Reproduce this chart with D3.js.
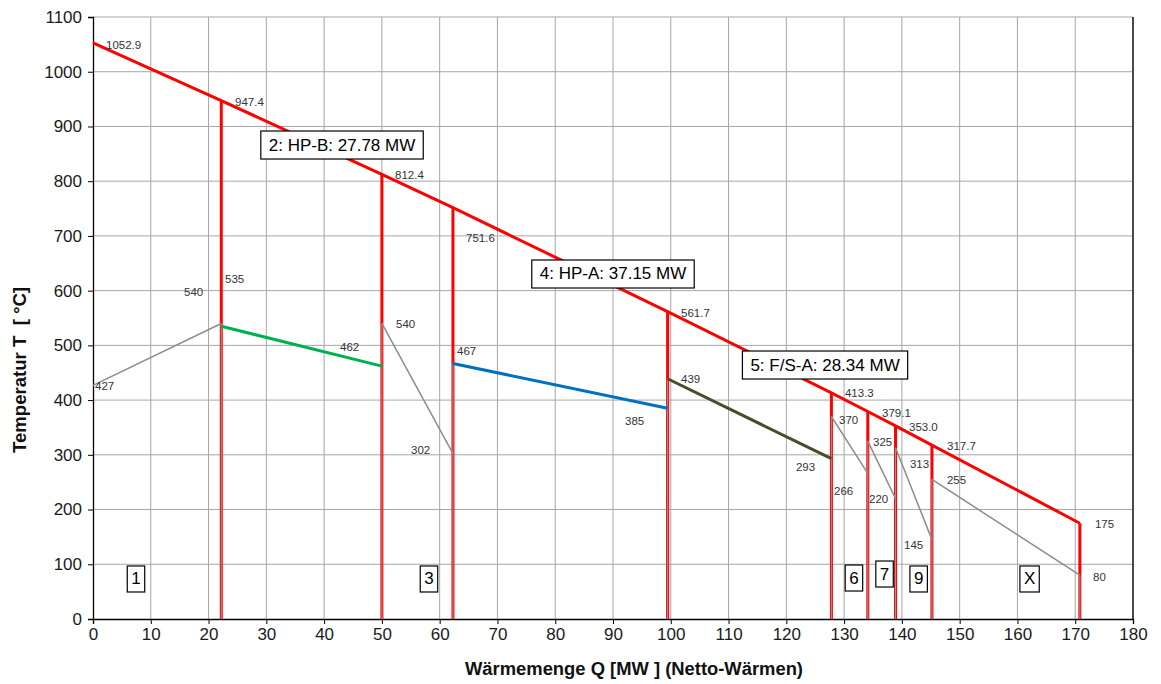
<!DOCTYPE html>
<html><head><meta charset="utf-8">
<script src="https://cdn.jsdelivr.net/npm/d3@7"></script>
<style>
body{margin:0;background:#fff;}
text{font-family:"Liberation Sans",Arial,sans-serif;}
</style></head>
<body><svg id="chart" width="1161" height="684"></svg>
<script>
// ---------- DATA ----------
const xTicks = d3.range(0, 181, 10);
const yTicks = d3.range(0, 1101, 100);

// hot composite (red)
const hotQ = [0, 22.2, 50.0, 62.3, 99.45, 127.8, 134.1, 138.9, 145.2, 170.8];
const hotT = [1052.9, 947.4, 812.4, 751.6, 561.7, 413.3, 379.1, 353.0, 317.7, 175];

// cold stream segments
const segQ0 = [0, 22.2, 50.0, 62.3, 99.45, 127.8, 134.1, 138.9, 145.2];
const segQ1 = [22.2, 50.0, 62.3, 99.45, 127.8, 134.1, 138.9, 145.2, 170.8];
const segT0 = [427, 535, 540, 467, 439, 370, 325, 313, 255];
const segT1 = [540, 462, 302, 385, 293, 266, 220, 145, 80];
const segKind = ["grey", "green", "grey", "blue", "olive", "grey", "grey", "grey", "grey"];

// cold verticals at each boundary
const coldVertT = [540, 540, 467, 439, 370, 325, 313, 255, 80];

// value labels: text, q, t (data coords of label left/baseline)
const valText = ["1052.9","947.4","812.4","751.6","561.7","439","385","413.3","379.1","353.0","317.7","175",
  "370","325","313","255","293","266","220","145","80","540","535","462","540","467","302","427"];
const valQ = [2.25,24.58,52.27,64.56,101.77,101.77,92.08,130.15,136.56,141.23,147.81,173.42,
  129.12,135.0,141.4,147.8,121.67,128.25,134.31,140.37,173.08,15.75,22.85,42.75,52.44,63.0,55.04,0.35];
const valT = [1041.5,937.4,804.0,688.9,551.8,431.2,354.5,405.6,369.1,343.5,308.8,166.3,
  356.3,316.1,275.9,246.7,270.4,226.6,212.0,127.9,69.4,590.2,614.0,489.7,531.7,482.4,301.5,418.4];

// boxed labels (centre in data coords)
const boxText = ["2: HP-B: 27.78 MW","4: HP-A: 37.15 MW","5: F/S-A: 28.34 MW","1","3","6","7","9","X"];
const boxQ = [43.1, 90.0, 126.7, 7.44, 58.15, 131.7, 137.0, 142.9, 162.1];
const boxT = [866.1, 630.4, 464.1, 73.1, 73.1, 74.9, 82.2, 73.1, 73.1];

// ---------- CHART ----------
const W = 1161, H = 684;
const m = {l: 93, r: 28, t: 17, b: 65};
const svg = d3.select("#chart");
const x = d3.scaleLinear().domain([0, 180]).range([m.l, W - m.r]);
const y = d3.scaleLinear().domain([0, 1100]).range([H - m.b, m.t]);
const colors = {grey: "#8c8c8c", green: "#00b050", blue: "#0070c0", olive: "#4b4a2c"};

// grid
svg.append("g").selectAll("line").data(xTicks.slice(1)).join("line")
  .attr("x1", d => x(d)).attr("x2", d => x(d)).attr("y1", y(0)).attr("y2", y(1100))
  .attr("stroke", "#a6a6a6").attr("stroke-width", 1);
svg.append("g").selectAll("line").data(yTicks.slice(1)).join("line")
  .attr("x1", x(0)).attr("x2", x(180)).attr("y1", d => y(d)).attr("y2", d => y(d))
  .attr("stroke", "#a6a6a6").attr("stroke-width", 1);

// axes
const xAxis = svg.append("g").attr("transform", `translate(0,${y(0)})`)
  .call(d3.axisBottom(x).tickValues(xTicks).tickFormat(d3.format("d")).tickSize(5).tickPadding(4));
const yAxis = svg.append("g").attr("transform", `translate(${x(0)},0)`)
  .call(d3.axisLeft(y).tickValues(yTicks).tickFormat(d3.format("d")).tickSize(5).tickPadding(6));
[xAxis, yAxis].forEach(a => {
  a.select(".domain").attr("stroke", "#000").attr("stroke-width", 1.3);
  a.selectAll(".tick line").attr("stroke", "#000");
  a.selectAll("text").attr("font-size", 17).attr("fill", "#1a1a1a")
    .attr("font-family", "Liberation Sans, Arial, sans-serif");
});
// right border
svg.append("line").attr("x1", x(180)).attr("x2", x(180)).attr("y1", y(0)).attr("y2", y(1100))
  .attr("stroke", "#000").attr("stroke-width", 1.3);

// red verticals
svg.append("g").selectAll("line").data(hotQ.slice(1).map((q, i) => [q, hotT[i + 1]])).join("line")
  .attr("x1", d => x(d[0])).attr("x2", d => x(d[0])).attr("y1", y(0)).attr("y2", d => y(d[1]))
  .attr("stroke", "#ff0000").attr("stroke-width", 3);
// grey verticals inside
svg.append("g").selectAll("line").data(hotQ.slice(1).map((q, i) => [q, coldVertT[i]])).join("line")
  .attr("x1", d => x(d[0])).attr("x2", d => x(d[0])).attr("y1", y(0)).attr("y2", d => y(d[1]))
  .attr("stroke", "#9a9a9a").attr("stroke-width", 1);

// red hot line
svg.append("path").datum(hotQ.map((q, i) => [q, hotT[i]]))
  .attr("d", d3.line().x(d => x(d[0])).y(d => y(d[1])))
  .attr("fill", "none").attr("stroke", "#ff0000").attr("stroke-width", 3);

// cold segments
svg.append("g").selectAll("line").data(segQ0.map((q, i) => i)).join("line")
  .attr("x1", i => x(segQ0[i])).attr("x2", i => x(segQ1[i]))
  .attr("y1", i => y(segT0[i])).attr("y2", i => y(segT1[i]))
  .attr("stroke", i => colors[segKind[i]])
  .attr("stroke-width", i => segKind[i] === "grey" ? 1.5 : 3);

// value labels
svg.append("g").selectAll("text").data(valText.map((t, i) => i)).join("text")
  .attr("x", i => x(valQ[i])).attr("y", i => y(valT[i]))
  .attr("font-size", 11.5).attr("fill", "#333").text(i => valText[i]);

// boxed labels
const bg = svg.append("g");
boxText.forEach((t, i) => {
  const big = t.length > 2;
  const g = bg.append("g");
  const tx = g.append("text").attr("x", x(boxQ[i])).attr("y", y(boxT[i]))
    .attr("text-anchor", "middle").attr("dominant-baseline", "central")
    .attr("font-size", 17).attr("fill", "#000").text(t);
  const bb = tx.node().getBBox();
  const px = big ? 8 : 4, h = big ? 28 : 26;
  g.insert("rect", "text").attr("x", bb.x - px).attr("y", y(boxT[i]) - h / 2)
    .attr("width", bb.width + 2 * px).attr("height", h)
    .attr("fill", "#fff").attr("stroke", "#000").attr("stroke-width", 1.2);
});

// axis titles
svg.append("text").attr("x", 634).attr("y", 675).attr("text-anchor", "middle")
  .attr("font-size", 18).attr("font-weight", "bold").attr("fill", "#111")
  .attr("textLength", 338).attr("lengthAdjust", "spacingAndGlyphs")
  .text("Wärmemenge Q [MW ] (Netto-Wärmen)");
svg.append("text").attr("transform", `translate(26,370) rotate(-90)`)
  .attr("text-anchor", "middle").attr("font-size", 18).attr("font-weight", "bold").attr("fill", "#111")
  .attr("textLength", 166).attr("lengthAdjust", "spacingAndGlyphs")
  .style("white-space", "pre")
  .text("Temperatur T  [ °C]");
</script></body></html>
